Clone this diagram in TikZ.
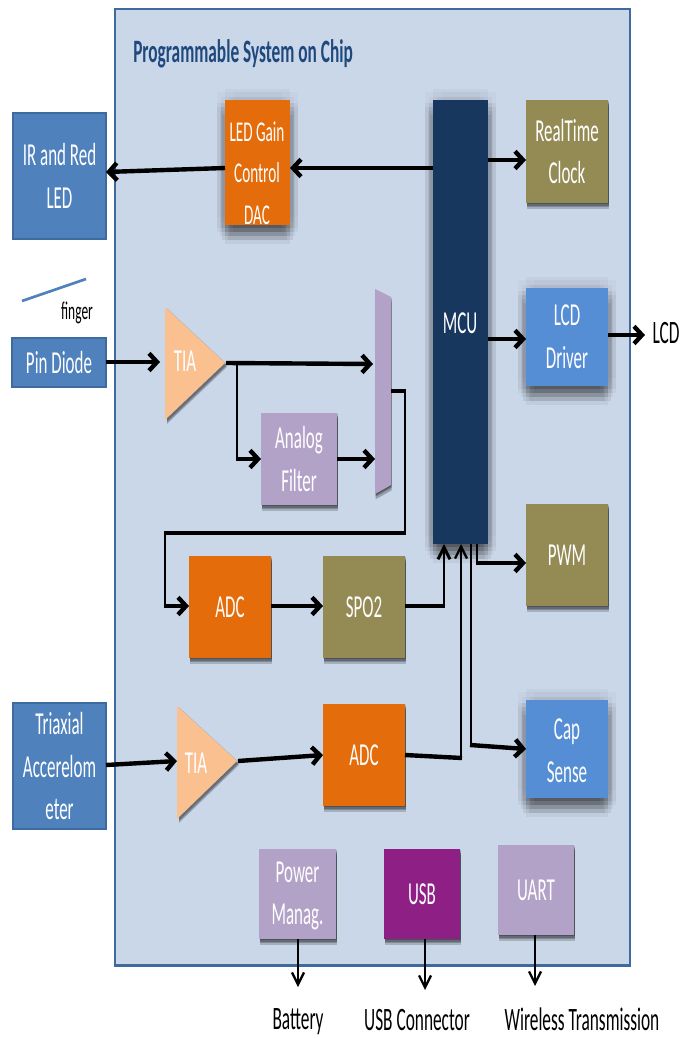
\documentclass[tikz,border=0pt]{standalone}
\usepackage{fontspec}
\setmainfont[FakeStretch=0.53]{Carlito}
\usetikzlibrary{arrows.meta,calc}
\definecolor{panel}{HTML}{CAD7E9}
\definecolor{panelB}{HTML}{3F6A9E}
\definecolor{ext}{HTML}{4F81BD}
\definecolor{extB}{HTML}{3D6A9F}
\definecolor{orangeB}{HTML}{E46C0A}
\definecolor{navy}{HTML}{17375E}
\definecolor{olive}{HTML}{948A54}
\definecolor{lblue}{HTML}{558ED5}
\definecolor{lilac}{HTML}{B3A2C7}
\definecolor{peach}{HTML}{FAC090}
\definecolor{purp}{HTML}{8E2085}
\definecolor{titleC}{HTML}{1F497D}
\tikzset{
  x=0.75pt,y=-0.75pt,
  wh/.style n args={2}{minimum width=#1*0.75pt,minimum height=#2*0.75pt},
  lay/.style n args={3}{preaction={fill=black,fill opacity=#3,transform canvas={xshift=#1pt,yshift=#2pt}}},
  hardsh/.style={lay={0.5}{-1}{.22},lay={0.5}{-2}{.22},lay={0.5}{-3}{.22},lay={0.5}{-4.5}{.18}},
  softsh/.style={
    lay={-6}{6}{.02},lay={6}{6}{.02},lay={0}{8}{.03},
    lay={-6}{-2}{.04},lay={-3}{-2}{.04},lay={0}{-2}{.04},lay={3}{-2}{.04},lay={6}{-2}{.04},
    lay={-6}{-5}{.04},lay={-3}{-5}{.04},lay={0}{-5}{.06},lay={3}{-5}{.04},lay={6}{-5}{.04},
    lay={-4}{-8}{.05},lay={0}{-8}{.08},lay={4}{-8}{.05},
    lay={-2}{-11}{.07},lay={2}{-11}{.07},lay={0}{-14}{.05},
    lay={-3}{2}{.03},lay={3}{2}{.03}},
  blk/.style={inner sep=0pt,outer sep=0pt,text=white,align=center,font=\fontsize{24}{32}\selectfont},
  extbox/.style={blk,fill=ext,draw=extB,line width=2pt},
  conn/.style={draw=black,line width=3.3pt,-{Straight Barb[length=6pt,width=13pt]}},
  hline/.style={draw=black,line width=3.3pt},
  vline/.style={draw=black,line width=1.7pt},
  vconn/.style={draw=black,line width=1.7pt,-{Straight Barb[length=9pt,width=9pt]}},
  lab/.style={inner sep=0pt,text=black,font=\fontsize{24.5}{28}\selectfont},
  amp/.style={text=white,inner sep=0pt,align=center,font=\fontsize{24}{32}\selectfont},
}
\begin{document}
\begin{tikzpicture}
\useasboundingbox (0,0) rectangle (680,1038);
\fill[white] (0,0) rectangle (680,1038);
% panel
\path[fill=panel,draw=panelB,line width=2pt] (115,9) rectangle (630,965);
\draw[panelB,line width=2.4pt] (114,965.5) -- (631,965.5);
\node[inner sep=0pt,anchor=west,text=titleC,font=\fontsize{24.5}{28}\selectfont\bfseries] (title) at (133,54) {Programmable System on Chip};
% external boxes
\node[extbox,wh={93}{126}] (led) at (59.5,176) {IR and Red\\LED};
\node[extbox,wh={94}{49}] (pin) at (59,362.5) {Pin Diode};
\node[extbox,wh={93}{126}] (tri) at (59.5,766) {Triaxial\\Accerelom\\eter};
\coordinate (f1) at (22,301); \coordinate (f2) at (86,279);
\draw[ext,line width=2pt] (f1) -- (f2);
\node[lab,font=\fontsize{19}{22}\selectfont] (finger) at (77,313) {finger};
% blocks
\node[blk,softsh,fill=orangeB,wh={65}{125}] (gain) at (257.5,162.5) {};
\node[amp,font=\fontsize{21.5}{31}\selectfont] (gaint) at (257,173) {LED Gain\\Control\\DAC};
\node[blk,softsh,fill=navy,wh={55}{444}] (mcu) at (460.5,322) {};
\node[amp] (mcut) at (460,323) {MCU};
\node[blk,hardsh,fill=olive,wh={82}{103}] (rtc) at (567,151.5) {RealTime\\Clock};
\node[blk,softsh,fill=lblue,wh={82}{98}] (lcd) at (567,337) {LCD\\Driver};
\node[blk,hardsh,fill=olive,wh={82}{102}] (pwm) at (567,555) {PWM};
\node[blk,softsh,fill=lblue,wh={82}{98}] (cap) at (567,749) {};
\node[amp] (capt) at (567,751) {Cap\\Sense};
\node[blk,hardsh,fill=lilac,wh={76}{92}] (filt) at (299,459) {Analog\\Filter};
\node[blk,hardsh,fill=orangeB,wh={82}{102}] (adca) at (230,607) {ADC};
\node[blk,hardsh,fill=olive,wh={82}{102}] (spo) at (364,607) {SPO2};
\node[blk,hardsh,fill=orangeB,wh={82}{102}] (adcb) at (364,755) {ADC};
\node[blk,hardsh,fill=lilac,wh={77}{90}] (pow) at (297.5,894) {};
\node[amp] (powt) at (297.5,896) {Power\\Manag.};
\node[blk,hardsh,fill=purp,wh={76}{90}] (usb) at (422,894) {USB};
\node[blk,hardsh,fill=lilac,wh={76}{90}] (uart) at (536,890) {UART};
% amps and mux
\path[lay={1.5}{-1}{.2},lay={1.5}{-2}{.2},lay={1.5}{-3}{.2},fill=peach] (165,307) -- (225,363) -- (165,420) -- cycle;
\path[lay={1.5}{-1}{.2},lay={1.5}{-2}{.2},lay={1.5}{-3}{.2},fill=peach] (177,706) -- (237,761) -- (177,819) -- cycle;
\path[lay={0.5}{-1}{.25},lay={0.5}{-2}{.25},lay={0.5}{-4}{.25},fill=lilac] (375,289) -- (391,297) -- (391,485) -- (375,494) -- cycle;
\node[amp] (tiaa) at (185,361) {TIA};
\node[amp] (tiab) at (196,763) {TIA};
\coordinate (tiaaout) at (226,363);
\coordinate (tiaain) at (160,362);
\coordinate (tiabin) at (177,761);
\coordinate (tiabout) at (238,761);
\coordinate (muxa) at (373,364);
\coordinate (muxb) at (375,459);
\coordinate (muxout) at (391,391);
% outer labels
\node[lab] (lcdt) at (666,333) {LCD};
\node[lab] (bat) at (298,1022) {Battery};
\node[lab] (usbc) at (417,1020) {USB Connector};
\node[lab] (wire) at (582,1019) {Wireless Transmission};
% connectors
\draw[conn] (mcu.west |- 0,168) -- (gain.east |- 0,168);
\draw[conn] (gain.west |- 0,168) -- (led.east |- 0,172);
\draw[conn] (mcu.east |- 0,160) -- (rtc.west |- 0,160);
\draw[conn] (mcu.east |- 0,339) -- (lcd.west |- 0,339);
\draw[conn] (lcd.east |- 0,335) -- (645,335);
\draw[conn] (pin.east |- tiaain) -- (tiaain);
\draw[conn] (tiaaout) -- (muxa);
\draw[vline] (237,363) -- (237,459);
\draw[conn] (236,459) -- (filt.west);
\draw[conn] (filt.east) -- (muxb);
% mux output
\draw[hline] (muxout) -- (406,391);
\draw[vline] (405,391) -- (405,533);
\draw[hline] (406,533) -- (164,533);
\draw[vline] (165,533) -- (165,606);
\draw[conn] (164,606) -- (adca.west |- 0,606);
\draw[conn] (adca.east |- 0,606) -- (spo.west |- 0,606);
% into and out of the MCU
\draw[hline] (spo.east |- 0,606) -- (445,606);
\draw[vconn,line width=2.2pt] (444,606) -- (mcu.south -| 444,0);
\draw[hline] (adcb.east |- 0,755) -- (462,758);
\draw[vconn] (461,758) -- (mcu.south -| 461,0);
\draw[vline] (mcu.south -| 471,0) -- (471,745);
\draw[conn] (470,745) -- (cap.west |- 0,749);
\draw[vline] (mcu.south -| 477,0) -- (477,563);
\draw[conn] (476,563) -- (pwm.west |- 0,563);
\draw[conn] (tri.east |- 0,765) -- (tiabin);
\draw[conn] (tiabout) -- (adcb.west |- 0,755);
\draw[vconn] (pow.south -| 298,0) -- (298,987);
\draw[vconn] (usb.south -| 425,0) -- (425,990);
\draw[vconn] (uart.south -| 535,0) -- (535,986);
\end{tikzpicture}
\end{document}
